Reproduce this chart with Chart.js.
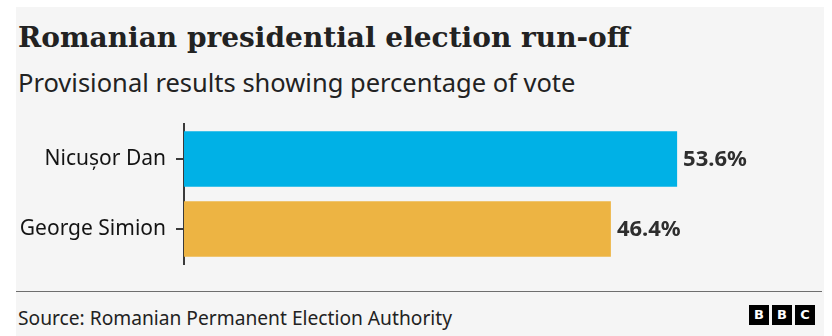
<!DOCTYPE html>
<html>
<head>
<meta charset="utf-8">
<script src="https://cdn.jsdelivr.net/npm/chart.js@4"></script>
<style>
  body { margin: 0; background: #fff; width: 832px; height: 336px; overflow: hidden; }
  .panel { position: absolute; left: 16px; top: 7px; width: 808px; height: 329px; background: #f5f5f5; }
  .title { position: absolute; left: 2px; top: 14px; font: bold 28px "DejaVu Serif", serif; color: #222; white-space: nowrap; }
  .subtitle { position: absolute; left: 2px; top: 58px; font: 25.5px "Noto Sans", sans-serif; color: #222; white-space: nowrap; }
  .rule { position: absolute; left: 0; top: 284px; width: 806px; height: 1px; background: #6e6e6e; }
  .source { position: absolute; left: 2px; top: 297px; font: 19.2px "Noto Sans", sans-serif; color: #222; white-space: nowrap; }
  .logo { position: absolute; left: 733px; top: 298px; display: flex; gap: 3px; }
  .logo span { width: 20px; height: 20px; background: #000; color: #fff; font: bold 13px "DejaVu Sans", sans-serif; line-height: 20px; text-align: center; }
  #chart { position: absolute; left: 0; top: 103px; }
</style>
</head>
<body>
<div class="panel">
  <div class="title">Romanian presidential election run-off</div>
  <div class="subtitle">Provisional results showing percentage of vote</div>
  <canvas id="chart" width="808" height="160"></canvas>
  <div class="rule"></div>
  <div class="source">Source: Romanian Permanent Election Authority</div>
  <div class="logo"><span>B</span><span>B</span><span>C</span></div>
</div>
<script>
const candidates = ['Nicușor Dan', 'George Simion'];
const votes = [53.6, 46.4];
const barColors = ['#00b1e6', '#edb443'];

// writes "53.6%" just past the end of each bar
const valueLabels = {
  id: 'valueLabels',
  afterDatasetsDraw(chart) {
    const ctx = chart.ctx;
    const meta = chart.getDatasetMeta(0);
    ctx.save();
    ctx.font = 'bold 22px "Noto Sans", sans-serif';
    ctx.fillStyle = '#2e2e2e';
    ctx.textAlign = 'left';
    ctx.textBaseline = 'middle';
    meta.data.forEach((bar, i) => {
      ctx.fillText(votes[i] + '%', bar.x + 6, bar.y + 1);
    });
    ctx.restore();
  }
};

new Chart(document.getElementById('chart'), {
  type: 'bar',
  data: {
    labels: candidates,
    datasets: [{
      data: votes,
      backgroundColor: barColors,
      borderWidth: 0,
      categoryPercentage: 0.79,
      barPercentage: 1
    }]
  },
  options: {
    indexAxis: 'y',
    responsive: false,
    devicePixelRatio: 1,
    animation: false,
    layout: { padding: { top: 14, bottom: 6, right: 88 } },
    plugins: { legend: { display: false }, tooltip: { enabled: false } },
    scales: {
      x: { min: 0, max: 60, display: false },
      y: {
        afterFit(scale) {
          scale.width = 168;
          scale.paddingTop = 0;
          scale.paddingBottom = 0;
        },
        border: { display: true, color: '#3a3a3a', width: 2 },
        grid: { offset: false, drawOnChartArea: false, drawTicks: true, tickLength: 8, color: '#3a3a3a', lineWidth: 2 },
        ticks: { color: '#141414', padding: 10, font: { family: 'Noto Sans', size: 21 } }
      }
    }
  },
  plugins: [valueLabels]
});
</script>
</body>
</html>
